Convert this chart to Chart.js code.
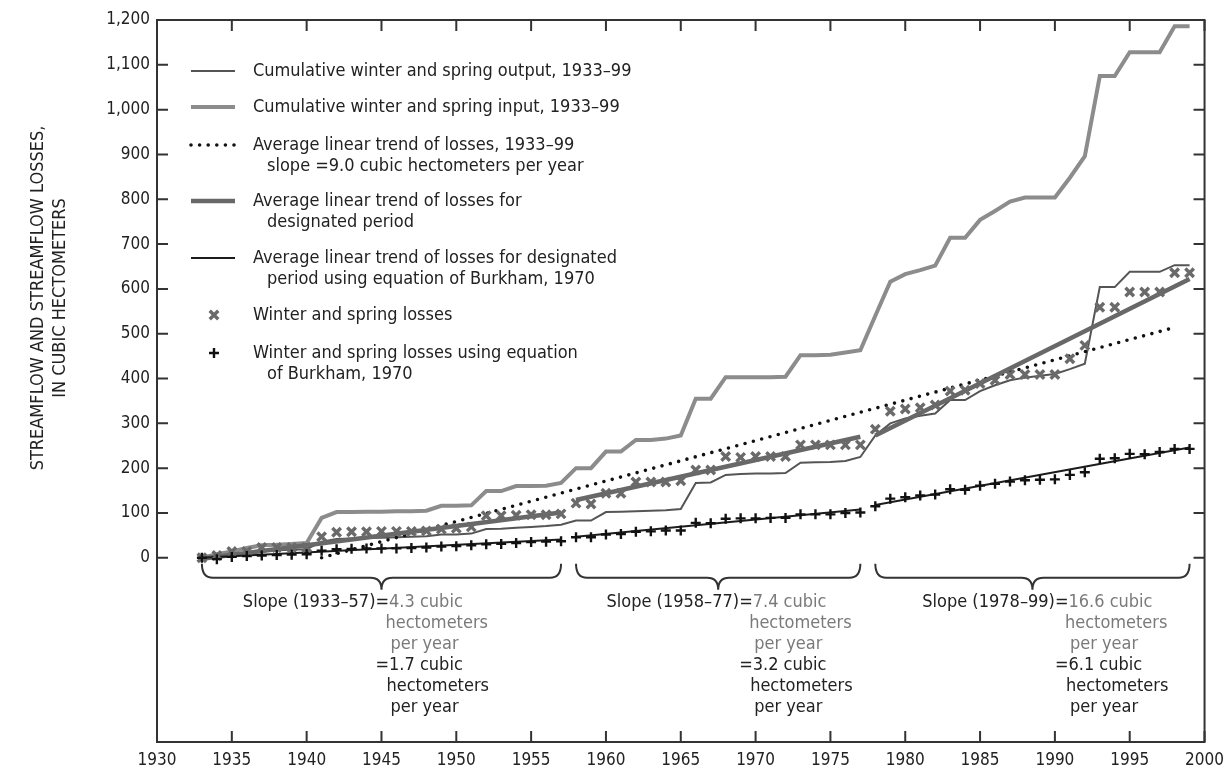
<!DOCTYPE html>
<html>
<head>
<meta charset="utf-8">
<script src="https://cdn.jsdelivr.net/npm/chart.js@4.4.0/dist/chart.umd.min.js"></script>
<style>
  html, body { margin: 0; padding: 0; background: #fff; }
  #wrap { position: relative; width: 1232px; height: 770px; }
</style>
</head>
<body>
<div id="wrap"><canvas id="lossChart"></canvas></div>
<script>
// ---- data ----
const years = [1933, 1934, 1935, 1936, 1937, 1938, 1939, 1940, 1941, 1942,
  1943, 1944, 1945, 1946, 1947, 1948, 1949, 1950, 1951, 1952,
  1953, 1954, 1955, 1956, 1957, 1958, 1959, 1960, 1961, 1962,
  1963, 1964, 1965, 1966, 1967, 1968, 1969, 1970, 1971, 1972,
  1973, 1974, 1975, 1976, 1977, 1978, 1979, 1980, 1981, 1982,
  1983, 1984, 1985, 1986, 1987, 1988, 1989, 1990, 1991, 1992,
  1993, 1994, 1995, 1996, 1997, 1998, 1999];

const inputVals = [0, 8, 14, 22, 28, 29, 31, 33, 89, 102,
  102, 103, 103, 104, 104, 105, 116, 116, 117, 149,
  149, 160, 160, 161, 167, 200, 200, 237, 237, 263,
  263, 266, 273, 355, 355, 403, 403, 403, 403, 404,
  452, 452, 453, 458, 463, 540, 616, 633, 642, 652,
  714, 714, 754, 774, 795, 804, 804, 804, 848, 896,
  1075, 1075, 1128, 1128, 1128, 1186, 1186];

const outputVals = [0, 4, 9, 11, 16, 17, 18, 19, 36, 42,
  43, 44, 45, 46, 47, 48, 52, 52, 54, 64,
  65, 67, 69, 71, 74, 83, 83, 102, 103, 104,
  105, 106, 109, 167, 168, 185, 187, 188, 188, 189,
  212, 213, 214, 216, 225, 273, 300, 311, 317, 322,
  352, 352, 372, 385, 396, 402, 406, 410, 421, 433,
  604, 604, 638, 638, 638, 653, 653];

const lossVals = [0, 5, 14, 14, 23, 23, 23, 23, 47, 57,
  58, 58, 59, 59, 59, 60, 64, 66, 69, 94,
  94, 95, 96, 96, 98, 122, 120, 144, 144, 169,
  169, 169, 172, 196, 196, 226, 224, 226, 226, 226,
  252, 252, 252, 252, 252, 287, 327, 332, 335, 341,
  372, 374, 389, 396, 409, 409, 409, 409, 444, 474,
  559, 559, 593, 593, 593, 636, 636];

const burkhamVals = [0, -3, 2, 4, 5, 6, 7, 8, 16, 19,
  20, 21, 21, 21, 22, 23, 25, 26, 28, 30,
  31, 33, 35, 36, 37, 46, 46, 52, 53, 58,
  59, 61, 61, 78, 77, 87, 88, 88, 89, 89,
  97, 97, 97, 100, 101, 115, 132, 135, 139, 141,
  153, 152, 161, 165, 170, 173, 174, 175, 185, 191,
  221, 222, 232, 231, 236, 243, 243];

// average linear trend 1933-99 (drawn where it is visible)
const trendAllYears = [1941, 1998];
const trendAllVals = [0, 514];

// designated periods and their fitted end values
const periodYears = [[1933, 1957], [1958, 1977], [1978, 1999]];
const periodTrendVals = [[-2, 101], [129, 270], [273, 622]];
const burkhamTrendVals = [[0, 41], [47, 108], [118, 246]];
const periodLabels = ['1933\u201357', '1958\u201377', '1978\u201399'];
const periodSlopes = ['4.3', '7.4', '16.6'];
const burkhamSlopes = ['1.7', '3.2', '6.1'];
const slopeTextYears = [1944.6, 1968.9, 1990.0];

const xTicks = [1930, 1935, 1940, 1945, 1950, 1955, 1960, 1965, 1970, 1975, 1980, 1985, 1990, 1995, 2000];
const yTicks = [0, 100, 200, 300, 400, 500, 600, 700, 800, 900, 1000, 1100, 1200];

const legendText = [
  ['Cumulative winter and spring output, 1933\u201399'],
  ['Cumulative winter and spring input, 1933\u201399'],
  ['Average linear trend of losses, 1933\u201399', 'slope =9.0 cubic hectometers per year'],
  ['Average linear trend of losses for', 'designated period'],
  ['Average linear trend of losses for designated', 'period using equation of Burkham, 1970'],
  ['Winter and spring losses'],
  ['Winter and spring losses using equation', 'of Burkham, 1970']
];

// ---- helpers ----
const FONT = "'DejaVu Sans Condensed', 'Liberation Sans Narrow', sans-serif";
const GRAY_TXT = '#7a7a7a';

function toPoints(xs, ys) {
  return xs.map((x, i) => ({ x: x, y: ys[i] }));
}

function segments(yearPairs, valPairs) {
  const out = [];
  yearPairs.forEach((yp, i) => {
    if (i > 0) out.push({ x: (yearPairs[i - 1][1] + yp[0]) / 2, y: null });
    out.push({ x: yp[0], y: valPairs[i][0] });
    out.push({ x: yp[1], y: valPairs[i][1] });
  });
  return out;
}

// frame with inward tick marks on all four sides
const frameTicks = {
  id: 'frameTicks',
  afterDatasetsDraw(chart) {
    const { ctx, chartArea: a, scales } = chart;
    const xs = scales.x, ys = scales.y;
    ctx.save();
    ctx.strokeStyle = '#333';
    ctx.lineWidth = 2;
    ctx.strokeRect(a.left, a.top, a.right - a.left, a.bottom - a.top);
    ctx.beginPath();
    xTicks.forEach(v => {
      const px = xs.getPixelForValue(v);
      ctx.moveTo(px, a.bottom); ctx.lineTo(px, a.bottom - 11);
      ctx.moveTo(px, a.top); ctx.lineTo(px, a.top + 11);
    });
    yTicks.forEach(v => {
      const py = ys.getPixelForValue(v);
      ctx.moveTo(a.left, py); ctx.lineTo(a.left + 11, py);
      ctx.moveTo(a.right, py); ctx.lineTo(a.right - 11, py);
    });
    ctx.stroke();
    ctx.restore();
  }
};

function drawBrace(ctx, x1, x2, yTop, yMid, yTip) {
  const xm = (x1 + x2) / 2, r = 11;
  ctx.beginPath();
  ctx.moveTo(x1, yTop);
  ctx.quadraticCurveTo(x1, yMid, x1 + r, yMid);
  ctx.lineTo(xm - r, yMid);
  ctx.quadraticCurveTo(xm, yMid, xm, yTip);
  ctx.quadraticCurveTo(xm, yMid, xm + r, yMid);
  ctx.lineTo(x2 - r, yMid);
  ctx.quadraticCurveTo(x2, yMid, x2, yTop);
  ctx.stroke();
}

// braces and slope notes under the curves
const periodNotes = {
  id: 'periodNotes',
  afterDraw(chart) {
    const { ctx, scales } = chart;
    const xs = scales.x, ys = scales.y;
    const y0 = ys.getPixelForValue(0);
    ctx.save();
    ctx.strokeStyle = '#333';
    ctx.lineWidth = 2;
    periodYears.forEach(p => {
      drawBrace(ctx, xs.getPixelForValue(p[0]), xs.getPixelForValue(p[1]), y0 + 6, y0 + 20, y0 + 32);
    });
    ctx.font = '18px ' + FONT;
    ctx.textBaseline = 'middle';
    periodYears.forEach((p, i) => {
      const ex = xs.getPixelForValue(slopeTextYears[i]);
      const eqW = ctx.measureText('=').width;
      const ty = y0 + 45, lh = 21;
      ctx.fillStyle = '#222';
      ctx.textAlign = 'right';
      ctx.fillText('Slope (' + periodLabels[i] + ')', ex, ty);
      ctx.textAlign = 'left';
      ctx.fillText('=', ex, ty);
      ctx.fillStyle = GRAY_TXT;
      ctx.fillText(periodSlopes[i] + ' cubic', ex + eqW, ty);
      ctx.fillText('hectometers', ex + 10, ty + lh);
      ctx.fillText('per year', ex + 15, ty + lh * 2);
      ctx.fillStyle = '#222';
      ctx.fillText('=' + burkhamSlopes[i] + ' cubic', ex, ty + lh * 3);
      ctx.fillText('hectometers', ex + 11, ty + lh * 4);
      ctx.fillText('per year', ex + 15, ty + lh * 5);
    });
    ctx.restore();
  }
};

// legend in the upper left of the plot, and the rotated axis title
const boxLegend = {
  id: 'boxLegend',
  afterDraw(chart) {
    const { ctx } = chart;
    const rowY = [71, 107, 145, 201, 258, 315, 353];
    const x1 = 191, x2 = 235, tx = 253, mx = 214;
    ctx.save();
    chart.data.datasets.forEach((ds, i) => {
      const y = rowY[i];
      if (ds.showLine) {
        ctx.strokeStyle = ds.borderColor;
        ctx.lineWidth = ds.borderWidth;
        ctx.lineCap = ds.borderCapStyle || 'butt';
        ctx.setLineDash(ds.borderDash || []);
        ctx.beginPath();
        ctx.moveTo(x1, y);
        ctx.lineTo(x2, y);
        ctx.stroke();
        ctx.setLineDash([]);
        ctx.lineCap = 'butt';
      } else {
        ctx.strokeStyle = ds.pointBorderColor;
        ctx.lineWidth = ds.pointBorderWidth;
        ctx.beginPath();
        const r = ds.pointRadius;
        if (ds.pointStyle === 'crossRot') {
          const d = r * Math.SQRT1_2;
          ctx.moveTo(mx - d, y - d); ctx.lineTo(mx + d, y + d);
          ctx.moveTo(mx - d, y + d); ctx.lineTo(mx + d, y - d);
        } else {
          ctx.moveTo(mx - r, y); ctx.lineTo(mx + r, y);
          ctx.moveTo(mx, y - r); ctx.lineTo(mx, y + r);
        }
        ctx.stroke();
      }
      ctx.fillStyle = '#222';
      ctx.font = '18px ' + FONT;
      ctx.textAlign = 'left';
      ctx.textBaseline = 'middle';
      legendText[i].forEach((t, k) => {
        ctx.fillText(t, k === 0 ? tx : tx + 14, y + k * 21);
      });
    });
    ctx.font = '18px ' + FONT;
    ctx.textAlign = 'center';
    ctx.fillStyle = '#222';
    ctx.translate(38, 298);
    ctx.rotate(-Math.PI / 2);
    ctx.fillText('STREAMFLOW AND STREAMFLOW LOSSES,', 0, 0);
    ctx.fillText('IN CUBIC HECTOMETERS', 0, 22);
    ctx.restore();
  }
};

const canvas = document.getElementById('lossChart');
const chart = new Chart(canvas.getContext('2d'), {
  type: 'scatter',
  data: {
    datasets: [
      {
        label: 'Cumulative output',
        data: toPoints(years, outputVals),
        showLine: true, borderColor: '#555555', borderWidth: 2,
        pointRadius: 0, tension: 0, order: 5
      },
      {
        label: 'Cumulative input',
        data: toPoints(years, inputVals),
        showLine: true, borderColor: '#8c8c8c', borderWidth: 4,
        pointRadius: 0, tension: 0, order: 6
      },
      {
        label: 'Trend 1933-99',
        data: toPoints(trendAllYears, trendAllVals),
        showLine: true, borderColor: '#111111', borderWidth: 3.6,
        borderDash: [0, 8.6], borderCapStyle: 'round',
        pointRadius: 0, order: 4
      },
      {
        label: 'Trend designated period',
        data: segments(periodYears, periodTrendVals),
        showLine: true, spanGaps: false, borderColor: '#686868', borderWidth: 4.5,
        pointRadius: 0, order: 3
      },
      {
        label: 'Trend Burkham',
        data: segments(periodYears, burkhamTrendVals),
        showLine: true, spanGaps: false, borderColor: '#1c1c1c', borderWidth: 2,
        pointRadius: 0, order: 2
      },
      {
        label: 'Losses',
        data: toPoints(years, lossVals),
        showLine: false, pointStyle: 'crossRot', pointRadius: 6,
        pointBorderWidth: 3.4, pointBorderColor: '#6a6a6a', pointBackgroundColor: '#6a6a6a', order: 1
      },
      {
        label: 'Losses Burkham',
        data: toPoints(years, burkhamVals),
        showLine: false, pointStyle: 'cross', pointRadius: 5,
        pointBorderWidth: 2.4, pointBorderColor: '#111111', pointBackgroundColor: '#111111', order: 0
      }
    ]
  },
  options: {
    responsive: true,
    maintainAspectRatio: false,
    animation: false,
    events: [],
    layout: { padding: { top: 20, right: 23, bottom: 0, left: 0 } },
    plugins: {
      legend: { display: false },
      tooltip: { enabled: false }
    },
    scales: {
      x: {
        type: 'linear',
        min: 1930,
        max: 2000,
        afterBuildTicks: s => { s.ticks = xTicks.map(v => ({ value: v })); },
        afterFit: s => { s.height = 28; },
        grid: { display: false, drawTicks: false },
        border: { display: false },
        ticks: {
          font: { family: FONT, size: 17 },
          color: '#222',
          padding: 8,
          maxRotation: 0,
          autoSkip: false,
          callback: v => String(v)
        }
      },
      y: {
        min: -411,
        max: 1200,
        afterBuildTicks: s => { s.ticks = yTicks.map(v => ({ value: v })); },
        afterFit: s => { s.width = 157; },
        grid: { display: false, drawTicks: false },
        border: { display: false },
        ticks: {
          font: { family: FONT, size: 17 },
          color: '#222',
          padding: 7,
          callback: v => v.toLocaleString('en-US')
        }
      }
    }
  },
  plugins: [frameTicks, periodNotes, boxLegend]
});
</script>
</body>
</html>
